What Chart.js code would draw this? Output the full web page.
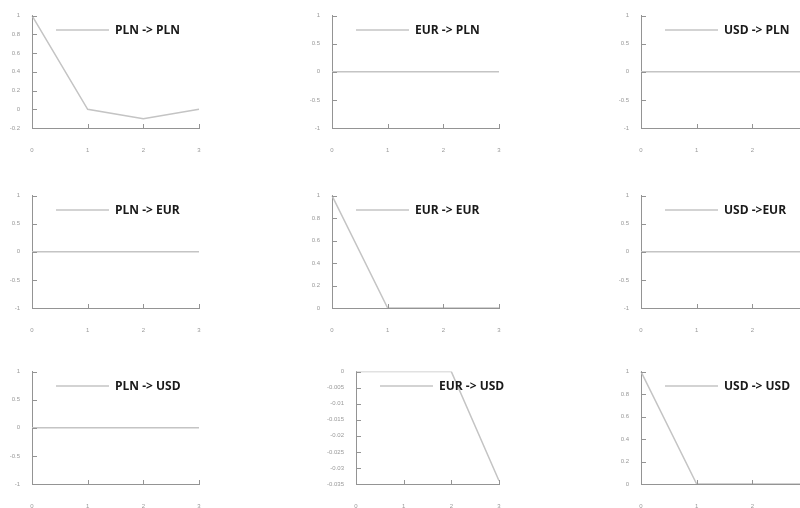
<!DOCTYPE html>
<html>
<head>
<meta charset="utf-8">
<script src="https://cdn.jsdelivr.net/npm/chart.js@4/dist/chart.umd.min.js"></script>
<style>
  html, body { margin: 0; padding: 0; background: #fff; width: 800px; height: 508px; overflow: hidden; }
  canvas { position: absolute; }
</style>
</head>
<body>
<script>
// ---- data ----
const categories = ['0', '1', '2', '3'];
const titles = ['PLN -> PLN', 'EUR -> PLN', 'USD -> PLN',
                'PLN -> EUR', 'EUR -> EUR', 'USD ->EUR',
                'PLN -> USD', 'EUR -> USD', 'USD -> USD'];
const plnPln = [1, 0, -0.1, 0];
const eurPln = [0, 0, 0, 0];
const usdPln = [0, 0, 0, 0];
const plnEur = [0, 0, 0, 0];
const eurEur = [1, 0, 0, 0];
const usdEur = [0, 0, 0, 0];
const plnUsd = [0, 0, 0, 0];
const eurUsd = [0, 0, 0, -0.034];
const usdUsd = [1, 0, 0, 0];
const seriesList = [plnPln, eurPln, usdPln, plnEur, eurEur, usdEur, plnUsd, eurUsd, usdUsd];
const yMins  = [-0.2, -1, -1, -1, 0, -1, -1, -0.035, 0];
const yMaxs  = [1, 1, 1, 1, 1, 1, 1, 0, 1];
const ySteps = [0.2, 0.5, 0.5, 0.5, 0.2, 0.5, 0.5, 0.005, 0.2];

// ---- layout ----
const colLeft = [0, 300, 609];
const rowTop = [0, 180, 356];
const yAxisW = [32, 32, 32, 32, 32, 32, 32, 56, 32];
const PAD_TOP = 15, PLOT_H = 113, XAXIS_H = 30, PLOT_RIGHT = 199, PAD_RIGHT = 12;

const inwardTicks = {
  id: 'inwardTicks',
  afterDatasetsDraw(chart) {
    const {ctx, chartArea, scales} = chart;
    ctx.save();
    ctx.strokeStyle = '#949494';
    ctx.lineWidth = 1;
    ctx.beginPath();
    scales.y.ticks.forEach(t => {
      const py = Math.round(scales.y.getPixelForValue(t.value)) + 0.5;
      ctx.moveTo(chartArea.left, py);
      ctx.lineTo(chartArea.left + 5, py);
    });
    scales.x.ticks.forEach((t, i) => {
      const px = Math.round(scales.x.getPixelForTick(i)) + 0.5;
      ctx.moveTo(px, chartArea.bottom);
      ctx.lineTo(px, chartArea.bottom - 4);
    });
    ctx.stroke();
    ctx.restore();
  }
};

// legend drawn inside the plot, left-anchored like the original
const innerLegend = {
  id: 'innerLegend',
  afterDraw(chart) {
    const {ctx, chartArea} = chart;
    const ds = chart.data.datasets[0];
    const y = chartArea.top + 14.5;
    const x0 = chartArea.left + 24;
    ctx.save();
    ctx.strokeStyle = ds.borderColor;
    ctx.lineWidth = 1.5;
    ctx.beginPath();
    ctx.moveTo(x0, y);
    ctx.lineTo(x0 + 53, y);
    ctx.stroke();
    ctx.fillStyle = '#1a1a1a';
    ctx.font = 'bold 12px "Open Sans"';
    ctx.textBaseline = 'middle';
    ctx.textAlign = 'left';
    ctx.fillText(ds.label, x0 + 59, y);
    ctx.restore();
  }
};

function fmt(v) { return String(parseFloat(Number(v).toFixed(4))); }

for (let i = 0; i < 9; i++) {
  const r = Math.floor(i / 3), c = i % 3;
  const cv = document.createElement('canvas');
  const w = PLOT_RIGHT + PAD_RIGHT;
  const h = PAD_TOP + PLOT_H + XAXIS_H;
  cv.width = w; cv.height = h;
  cv.style.left = colLeft[c] + 'px';
  cv.style.top = rowTop[r] + 'px';
  cv.style.width = w + 'px'; cv.style.height = h + 'px';
  document.body.appendChild(cv);
  const yw = yAxisW[i];
  new Chart(cv, {
    type: 'line',
    data: {
      labels: categories,
      datasets: [{
        label: titles[i],
        data: seriesList[i],
        borderColor: '#c4c4c4',
        borderWidth: 1.5,
        pointRadius: 0,
        tension: 0,
        fill: false
      }]
    },
    options: {
      responsive: false,
      animation: false,
      devicePixelRatio: 1,
      layout: { padding: { top: PAD_TOP, right: PAD_RIGHT, left: 0, bottom: 0 } },
      plugins: {
        tooltip: { enabled: false },
        legend: { display: false }
      },
      scales: {
        x: {
          type: 'category',
          offset: false,
          grid: { display: false, drawTicks: false },
          border: { display: true, color: '#949494', width: 1 },
          ticks: { padding: 19, color: '#999', font: { family: 'Liberation Sans', size: 6 }, maxRotation: 0, autoSkip: false },
          afterFit: s => { s.height = XAXIS_H; s.paddingLeft = 0; s.paddingRight = 0; }
        },
        y: {
          min: yMins[i],
          max: yMaxs[i],
          grid: { display: false, drawTicks: false },
          border: { display: true, color: '#949494', width: 1 },
          ticks: { stepSize: ySteps[i], padding: 12, color: '#999', font: { family: 'Liberation Sans', size: 6 }, callback: v => fmt(v) },
          afterFit: s => { s.width = yw; }
        }
      }
    },
    plugins: [inwardTicks, innerLegend]
  });
}
</script>
</body>
</html>
